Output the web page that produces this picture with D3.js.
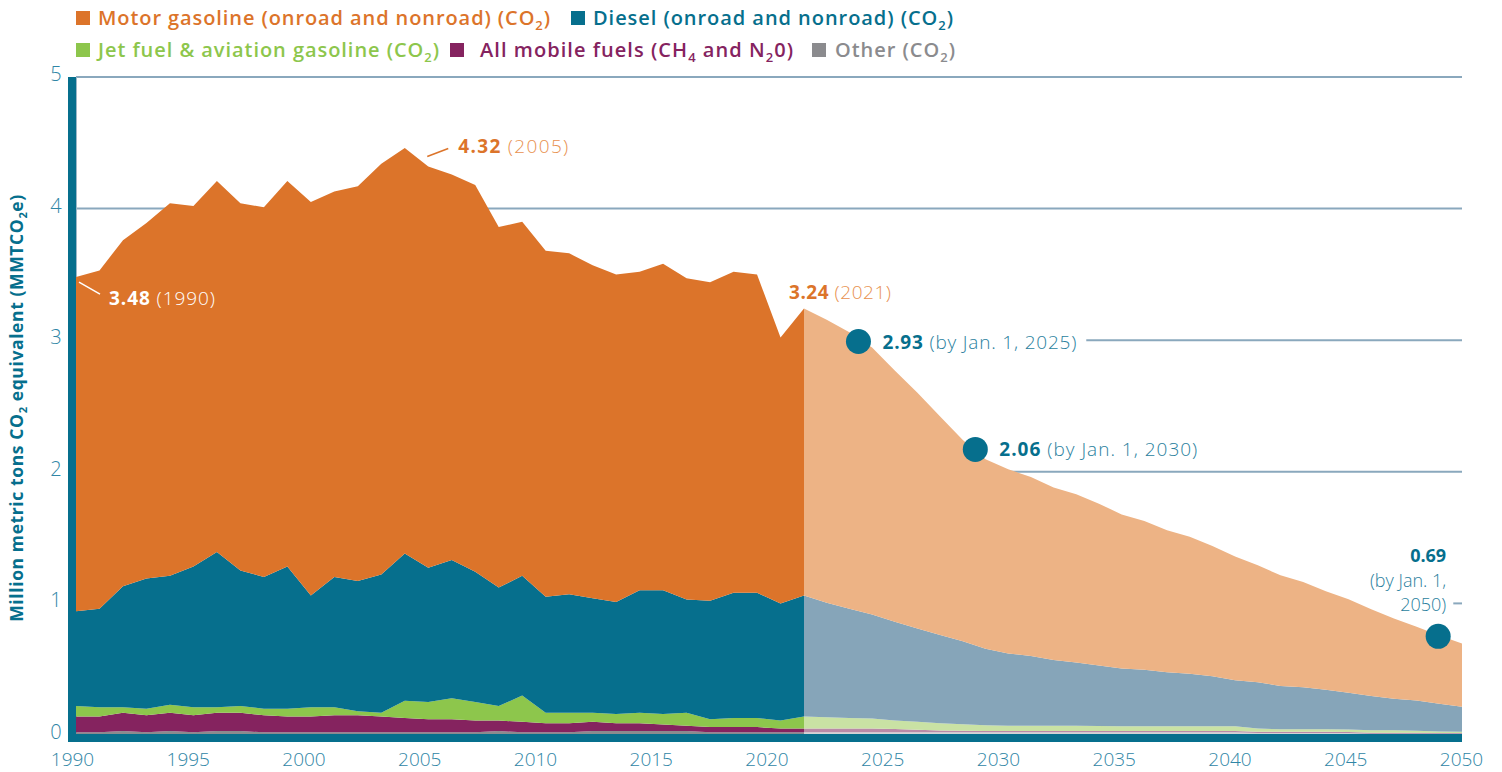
<!DOCTYPE html>
<html><head><meta charset="utf-8">
<script src="https://cdn.jsdelivr.net/npm/d3@7"></script>
<style>
html,body{margin:0;padding:0;background:#fff;}
svg{display:block;font-family:"Open Sans",sans-serif;}
</style></head><body>
<svg id="chart" width="1502" height="772"></svg>
<script>
// ---------- DATA ----------
const histYears = d3.range(1990, 2022);
const histGasoline = [2.54,2.57,2.63,2.70,2.83,2.74,2.82,2.79,2.81,2.93,2.99,2.93,3.00,3.12,3.08,3.05,2.93,2.94,2.74,2.69,2.63,2.59,2.53,2.49,2.42,2.48,2.44,2.42,2.44,2.42,2.02,2.18];
const histDiesel   = [0.72,0.75,0.92,0.99,0.98,1.07,1.18,1.03,1.00,1.08,0.85,0.99,0.99,1.05,1.12,1.02,1.05,0.99,0.90,0.91,0.88,0.90,0.87,0.85,0.93,0.94,0.86,0.90,0.95,0.95,0.89,0.92];
const histJet      = [0.08,0.07,0.04,0.05,0.06,0.06,0.04,0.05,0.05,0.06,0.07,0.06,0.03,0.03,0.13,0.13,0.16,0.14,0.11,0.20,0.08,0.08,0.07,0.07,0.08,0.08,0.10,0.06,0.07,0.07,0.06,0.09];
const histCH4N2O   = [0.12,0.12,0.14,0.13,0.14,0.13,0.14,0.14,0.13,0.12,0.12,0.13,0.13,0.12,0.11,0.10,0.10,0.09,0.08,0.08,0.07,0.07,0.07,0.06,0.06,0.05,0.04,0.04,0.04,0.04,0.03,0.03];
const histOther    = [0.02,0.02,0.03,0.02,0.03,0.02,0.03,0.03,0.02,0.02,0.02,0.02,0.02,0.02,0.02,0.02,0.02,0.02,0.03,0.02,0.02,0.02,0.03,0.03,0.03,0.03,0.03,0.02,0.02,0.02,0.02,0.02];

const projYears = d3.range(2021, 2051);
const projGasoline = [2.18,2.15,2.10,2.03,1.91,1.79,1.66,1.53,1.44,1.40,1.36,1.31,1.28,1.23,1.17,1.13,1.08,1.04,0.99,0.94,0.89,0.84,0.80,0.75,0.71,0.66,0.61,0.56,0.52,0.48];
const projDiesel   = [0.92,0.87,0.83,0.79,0.75,0.71,0.67,0.63,0.58,0.55,0.53,0.50,0.48,0.46,0.44,0.43,0.41,0.40,0.38,0.35,0.35,0.33,0.32,0.30,0.28,0.26,0.24,0.23,0.21,0.19];
const projJet      = [0.09,0.085,0.08,0.075,0.065,0.06,0.055,0.05,0.045,0.04,0.04,0.04,0.04,0.038,0.036,0.036,0.036,0.036,0.036,0.036,0.025,0.018,0.018,0.018,0.018,0.018,0.018,0.014,0.012,0.01];
const projCH4N2O   = [0.03,0.03,0.03,0.03,0.025,0.02,0.015,0.012,0.01,0.01,0.01,0.01,0.01,0.01,0.01,0.01,0.01,0.01,0.01,0.01,0.01,0.01,0.01,0.01,0.008,0.008,0.008,0.008,0.005,0.005];
const projOther    = [0.02,0.02,0.02,0.02,0.02,0.02,0.02,0.02,0.02,0.02,0.02,0.02,0.02,0.02,0.02,0.02,0.02,0.02,0.02,0.02,0.015,0.015,0.015,0.015,0.015,0.01,0.01,0.01,0.01,0.01];

const yTicks = [0,1,2,3,4,5];
const xTicks = [1990,1995,2000,2005,2010,2015,2020,2025,2030,2035,2040,2045,2050];

const seriesKeys = ["other","ch4","jet","diesel","gasoline"];
const histColors = {gasoline:"#dc742a", diesel:"#066f8d", jet:"#8dc64c", ch4:"#85235f", other:"#8b8b8e"};
const projColors = {gasoline:"#edb385", diesel:"#86a5b9", jet:"#c9e2a4", ch4:"#b98aa7", other:"#d3d3d5"};

// milestones: [year, value] positions with label text
const milestones = [
  {year:2023.4, value:2.99, big:"2.93", note:"(by Jan. 1, 2025)"},
  {year:2028.55, value:2.17, big:"2.06", note:"(by Jan. 1, 2030)"},
  {year:2048.95, value:0.75, big:"0.69", note:"(by Jan. 1,|2050)"}
];
const callouts = [
  {year:1990, value:3.48, big:"3.48", note:"(1990)"},
  {year:2005, value:4.32, big:"4.32", note:"(2005)"},
  {year:2021, value:3.24, big:"3.24", note:"(2021)"}
];

// ---------- SCALES ----------
const svg = d3.select("#chart");
const x = d3.scaleLinear().domain([1990, 2021, 2050]).range([76, 804, 1462]);
const xAxisScale = d3.scaleLinear().domain([1990, 2050]).range([72, 1461]);
const y = d3.scaleLinear().domain([0, 5]).range([735, 77]);

function rows(years, g, d, j, c, o){
  return years.map((yr,i)=>({year:yr, gasoline:g[i], diesel:d[i], jet:j[i], ch4:c[i], other:o[i]}));
}
const histRows = rows(histYears, histGasoline, histDiesel, histJet, histCH4N2O, histOther);
const projRows = rows(projYears, projGasoline, projDiesel, projJet, projCH4N2O, projOther);
const stack = d3.stack().keys(seriesKeys);
const area = d3.area().x(d=>x(d.data.year)).y0(d=>y(d[0])).y1(d=>y(d[1]));

const gridColor = "#8aa8bd";
const tickColor = "#2f86a6";
const teal = "#066f8d";

// ---------- GRID ----------
const gGrid = svg.append("g");
[5,4,2].forEach(v=>{
  gGrid.append("line").attr("x1",76).attr("x2",1462).attr("y1",y(v)).attr("y2",y(v))
    .attr("stroke",gridColor).attr("stroke-width",2);
});
gGrid.append("line").attr("x1",76).attr("x2",1462).attr("y1",y(0)-1.5).attr("y2",y(0)-1.5)
  .attr("stroke","#c5cfd6").attr("stroke-width",1.5);
gGrid.append("line").attr("x1",76.5).attr("x2",76.5).attr("y1",y(5)).attr("y2",y(0))
  .attr("stroke","#9db7c8").attr("stroke-width",1);

// ---------- AREAS ----------
svg.append("g").selectAll("path").data(stack(histRows)).join("path")
  .attr("d",area).attr("fill",d=>histColors[d.key]);
svg.append("g").selectAll("path").data(stack(projRows)).join("path")
  .attr("d",area).attr("fill",d=>projColors[d.key]);

// ---------- AXIS BARS ----------
svg.append("rect").attr("x",68).attr("y",y(5)).attr("width",8).attr("height",742-y(5)).attr("fill",teal);
svg.append("rect").attr("x",68).attr("y",734).attr("width",x(2050)-68).attr("height",8).attr("fill",teal);

// ---------- AXES ----------
const fitSpacing = (node, target) => {
  const len = node.getComputedTextLength();
  const n = node.textContent.length;
  if (n > 1) d3.select(node).attr("letter-spacing", ((target - len) / (n - 1)).toFixed(3));
};

const xAxis = svg.append("g").attr("transform","translate(0,752)")
  .call(d3.axisBottom(xAxisScale).tickValues(xTicks).tickSize(0).tickPadding(0).tickFormat(d3.format("d")));
xAxis.select(".domain").remove();
xAxis.selectAll("text").attr("fill",tickColor).attr("font-size",19).attr("font-weight",300)
  .attr("font-family","'Open Sans',sans-serif").attr("dy","0.71em");

const yAxis = svg.append("g").attr("transform","translate(62,0)")
  .call(d3.axisLeft(y).tickValues(yTicks).tickSize(0).tickPadding(0).tickFormat(d3.format("d")));
yAxis.select(".domain").remove();
yAxis.selectAll("text").attr("fill",tickColor).attr("font-size",20).attr("font-weight",300)
  .attr("font-family","'Open Sans',sans-serif").attr("text-anchor","middle").attr("x",-6).attr("y",-3);

// y title
const yt = svg.append("text").attr("transform","translate(23,408) rotate(-90)")
  .attr("text-anchor","middle").attr("fill",teal).attr("font-size",17.5).attr("font-weight",700);
yt.append("tspan").text("Million metric tons CO");
yt.append("tspan").text("2").attr("font-size",11).attr("dy",4);
yt.append("tspan").text(" equivalent (MMTCO").attr("dy",-4);
yt.append("tspan").text("2").attr("font-size",11).attr("dy",4);
yt.append("tspan").text("e)").attr("dy",-4);
fitSpacing(yt.node(), 427);

// ---------- LEGEND ----------
const legendItems = [
  {key:"gasoline", parts:["Motor gasoline (onroad and nonroad) (CO","_2",")"], sx:76, tx:98, by:25, w:452},
  {key:"diesel", parts:["Diesel (onroad and nonroad) (CO","_2",")"], sx:571, tx:593, by:25, w:360},
  {key:"jet", parts:["Jet fuel & aviation gasoline (CO","_2",")"], sx:76, tx:98, by:57, w:341},
  {key:"ch4", parts:["All mobile fuels (CH","_4"," and N","_2","0)"], sx:450, tx:480, by:57, w:313},
  {key:"other", parts:["Other (CO","_2",")"], sx:812, tx:835, by:57, w:120}
];
const gLeg = svg.append("g");
legendItems.forEach(it=>{
  gLeg.append("rect").attr("x",it.sx).attr("y",it.by-14).attr("width",14).attr("height",14).attr("fill",histColors[it.key]);
  const t = gLeg.append("text").attr("x",it.tx).attr("y",it.by).attr("fill",histColors[it.key])
    .attr("font-size",20).attr("font-weight",600);
  let sub=false;
  it.parts.forEach(p=>{
    if(p.startsWith("_")){ t.append("tspan").text(p.slice(1)).attr("font-size",13).attr("dy",5); sub=true; }
    else { const s=t.append("tspan").text(p); if(sub){ s.attr("dy",-5); sub=false; } }
  });
  fitSpacing(t.node(), it.w);
});

// ---------- CALLOUTS ----------
const gAnn = svg.append("g");
// 1990
{
  const c = callouts[0], px = x(c.year), py = y(c.value);
  gAnn.append("line").attr("x1",px+3).attr("y1",py+5).attr("x2",px+24).attr("y2",py+17).attr("stroke","#fff").attr("stroke-width",1.5);
  const t = gAnn.append("text").attr("x",px+33).attr("y",py+28).attr("font-size",19).attr("fill","#fff");
  t.append("tspan").text(c.big).attr("font-weight",700);
  t.append("tspan").text(" "+c.note).attr("font-weight",300);
  fitSpacing(t.node(),106);
}
// 2005
{
  const c = callouts[1], px = x(c.year), py = y(c.value);
  gAnn.append("line").attr("x1",px-1).attr("y1",py-10).attr("x2",px+20).attr("y2",py-18).attr("stroke","#dc742a").attr("stroke-width",1.5);
  const t = gAnn.append("text").attr("x",px+30).attr("y",py-13).attr("font-size",19);
  t.append("tspan").text(c.big).attr("font-weight",700).attr("fill","#dc742a");
  t.append("tspan").text(" "+c.note).attr("font-weight",300).attr("fill","#e8914f");
  fitSpacing(t.node(),110);
}
// 2021
{
  const c = callouts[2], px = x(c.year), py = y(c.value);
  const t = gAnn.append("text").attr("x",px-15).attr("y",py-10).attr("font-size",19);
  t.append("tspan").text(c.big).attr("font-weight",700).attr("fill","#dc742a");
  t.append("tspan").text(" "+c.note).attr("font-weight",300).attr("fill","#e8914f");
  fitSpacing(t.node(),102);
}

// ---------- MILESTONES ----------
const noteColor = "#2a7f9e";
milestones.forEach((m,i)=>{
  const cx = x(m.year), cy = y(m.value);
  gAnn.append("circle").attr("cx",cx).attr("cy",cy).attr("r",12.5).attr("fill",teal);
  if(i<2){
    const t = gAnn.append("text").attr("x",cx+24).attr("y",cy+7).attr("font-size",19);
    t.append("tspan").text(m.big).attr("font-weight",700).attr("fill",teal);
    t.append("tspan").text(" "+m.note).attr("font-weight",300).attr("fill",noteColor);
    fitSpacing(t.node(), i===0?194:198);
    if(i===0){
      const bb = t.node().getBBox();
      gGrid.append("line").attr("x1",bb.x+bb.width+9).attr("x2",1462).attr("y1",y(3)).attr("y2",y(3))
        .attr("stroke",gridColor).attr("stroke-width",2);
    }
  } else {
    const rx = cx+8;
    const [n1,n2] = m.note.split("|");
    const t = gAnn.append("text").attr("x",rx).attr("y",cy-74).attr("text-anchor","end").attr("font-size",18);
    t.append("tspan").attr("x",rx).text(m.big).attr("font-weight",700).attr("fill",teal);
    t.append("tspan").attr("x",rx).attr("dy",24.5).text(n1).attr("font-weight",300).attr("fill",noteColor);
    const t3 = t.append("tspan").attr("x",rx).attr("dy",24.5).text(n2).attr("font-weight",300).attr("fill",noteColor);
    const bb = t3.node().getBBox();
    gGrid.append("line").attr("x1",bb.x+bb.width+7).attr("x2",1462).attr("y1",y(1)).attr("y2",y(1))
      .attr("stroke",gridColor).attr("stroke-width",2);
  }
});
</script>
</body></html>
